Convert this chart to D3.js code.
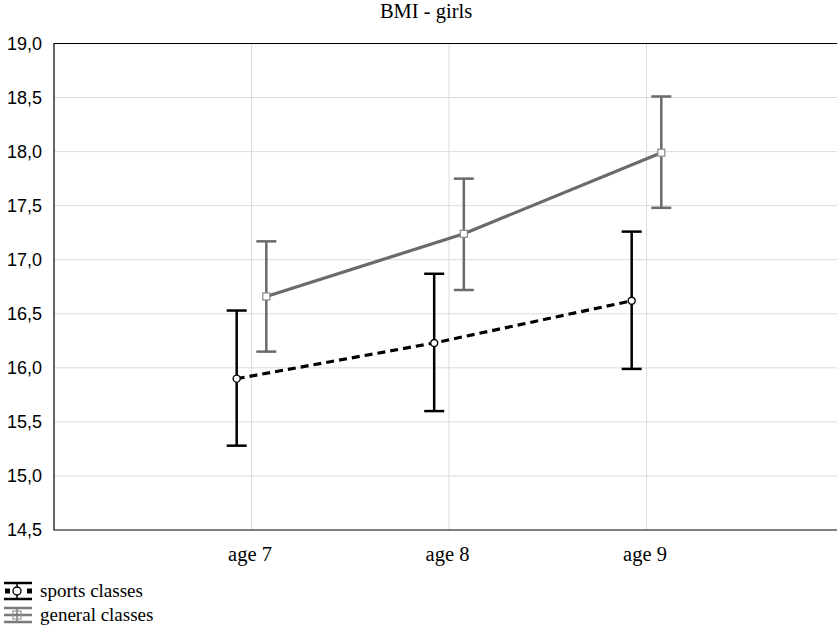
<!DOCTYPE html>
<html>
<head>
<meta charset="utf-8">
<script src="https://cdnjs.cloudflare.com/ajax/libs/d3/7.8.5/d3.min.js"></script>
<style>
    body { margin: 0; background: #fff; }
    svg { display: block; }
</style>
</head>
<body>
<svg id="chart" width="837" height="632"></svg>
<script>
// Data
const categories = ['age 7', 'age 8', 'age 9'];
const sportsMean = [15.90, 16.23, 16.62];
const sportsLow = [15.28, 15.60, 15.99];
const sportsHigh = [16.53, 16.87, 17.26];
const generalMean = [16.66, 17.24, 17.99];
const generalLow = [16.15, 16.72, 17.48];
const generalHigh = [17.17, 17.75, 18.51];
const yTicks = [14.5, 15, 15.5, 16, 16.5, 17, 17.5, 18, 18.5, 19];

const svg = d3.select('#chart');
const plotLeft = 54, plotTop = 43.5, plotBottom = 530;
const serif = 'Liberation Serif, Times New Roman, serif';

// category i sits at i+1 on a 0..4 scale (right end is cut off by the window)
let x = d3.scaleLinear().domain([0, 4]).range([plotLeft, 844]);
let y = d3.scaleLinear().domain([14.5, 19]).range([plotBottom, plotTop]);
let fmt = d => d.toFixed(1).replace('.', ',');

// Grid
svg.append('g')
    .selectAll('line')
    .data(yTicks.slice(1, -1))
    .join('line')
    .attr('x1', plotLeft).attr('x2', 837)
    .attr('y1', d => y(d)).attr('y2', d => y(d))
    .attr('stroke', '#dcdcdc').attr('stroke-width', 1);
svg.append('g')
    .selectAll('line')
    .data(categories)
    .join('line')
    .attr('x1', (d, i) => x(i + 1)).attr('x2', (d, i) => x(i + 1))
    .attr('y1', plotTop).attr('y2', plotBottom)
    .attr('stroke', '#dcdcdc').attr('stroke-width', 1);

// Frame
svg.append('path')
    .attr('d', `M837,${plotTop}H${plotLeft}V${plotBottom}H837`)
    .attr('fill', 'none').attr('stroke', '#000').attr('stroke-width', 1.2);

// Y axis labels
let yAxis = d3.axisLeft(y).tickValues(yTicks).tickFormat(fmt).tickSize(0).tickPadding(12);
let gy = svg.append('g').attr('transform', `translate(${plotLeft},0)`).call(yAxis);
gy.select('.domain').remove();
gy.selectAll('text')
    .attr('font-family', 'Liberation Sans, Arial, sans-serif')
    .attr('font-size', 18).attr('fill', '#000');

// X axis labels
let xAxis = d3.axisBottom(x).tickValues([1, 2, 3]).tickFormat(d => categories[d - 1]).tickSize(0).tickPadding(16);
let gx = svg.append('g').attr('transform', `translate(-2,${plotBottom})`).call(xAxis);
gx.select('.domain').remove();
gx.selectAll('text')
    .attr('font-family', serif)
    .attr('font-size', 20.5).attr('fill', '#000');

// Title
svg.append('text')
    .attr('x', 426).attr('y', 18)
    .attr('text-anchor', 'middle')
    .attr('font-family', serif)
    .attr('font-size', 20.5)
    .text('BMI - girls');

function drawSeries(mean, low, high, offset, color, dash, marker) {
    let g = svg.append('g');
    let px = i => x(i + 1 + offset);
    let line = d3.line().x((d, i) => px(i)).y(d => y(d));

    // error bars
    categories.forEach((c, i) => {
        g.append('line')
            .attr('x1', px(i)).attr('x2', px(i))
            .attr('y1', y(low[i])).attr('y2', y(high[i]))
            .attr('stroke', color).attr('stroke-width', 2.5);
        [low[i], high[i]].forEach(v => {
            g.append('line')
                .attr('x1', px(i) - 10).attr('x2', px(i) + 10)
                .attr('y1', y(v)).attr('y2', y(v))
                .attr('stroke', color).attr('stroke-width', 2.5);
        });
    });

    g.append('path')
        .attr('d', line(mean))
        .attr('fill', 'none')
        .attr('stroke', color).attr('stroke-width', 3.2)
        .attr('stroke-dasharray', dash);

    if (marker === 'circle') {
        g.selectAll('circle').data(mean).join('circle')
            .attr('cx', (d, i) => px(i)).attr('cy', d => y(d))
            .attr('r', 3.5)
            .attr('fill', '#fff').attr('stroke', color).attr('stroke-width', 1.4);
    } else {
        g.selectAll('rect').data(mean).join('rect')
            .attr('x', (d, i) => px(i) - 3.5).attr('y', d => y(d) - 3.5)
            .attr('width', 7).attr('height', 7)
            .attr('fill', '#fff').attr('stroke', '#8a8a8a').attr('stroke-width', 1.2);
    }
}

drawSeries(generalMean, generalLow, generalHigh, 0.075, '#6a6a6a', null, 'square');
drawSeries(sportsMean, sportsLow, sportsHigh, -0.075, '#000', '8,5', 'circle');

// Legend
let legend = [
    {name: 'sports classes', color: '#000', marker: 'circle', y: 591, gap: 8},
    {name: 'general classes', color: '#7a7a7a', marker: 'square', y: 615, gap: 7}
];
legend.forEach(l => {
    let g = svg.append('g');
    [l.y - l.gap, l.y + l.gap].forEach(yy => {
        g.append('line').attr('x1', 4).attr('x2', 32).attr('y1', yy).attr('y2', yy)
            .attr('stroke', l.color).attr('stroke-width', 2.5);
    });
    g.append('line').attr('x1', 17).attr('x2', 17).attr('y1', l.y - l.gap).attr('y2', l.y + l.gap)
        .attr('stroke', l.color).attr('stroke-width', 1.5);
    if (l.marker === 'circle') {
        g.append('line').attr('x1', 5).attr('x2', 32).attr('y1', l.y).attr('y2', l.y)
            .attr('stroke', l.color).attr('stroke-width', 5).attr('stroke-dasharray', '5,17,5');
        g.append('circle').attr('cx', 17).attr('cy', l.y).attr('r', 4)
            .attr('fill', '#fff').attr('stroke', l.color).attr('stroke-width', 1.4);
    } else {
        g.append('line').attr('x1', 4).attr('x2', 32).attr('y1', l.y).attr('y2', l.y)
            .attr('stroke', l.color).attr('stroke-width', 2.5);
        g.append('rect').attr('x', 13).attr('y', l.y - 4).attr('width', 8).attr('height', 8)
            .attr('fill', 'none').attr('stroke', '#999').attr('stroke-width', 1.2);
    }
    g.append('text')
        .attr('x', 40).attr('y', l.y + 6)
        .attr('font-family', serif)
        .attr('font-size', 19)
        .text(l.name);
});
</script>
</body>
</html>
